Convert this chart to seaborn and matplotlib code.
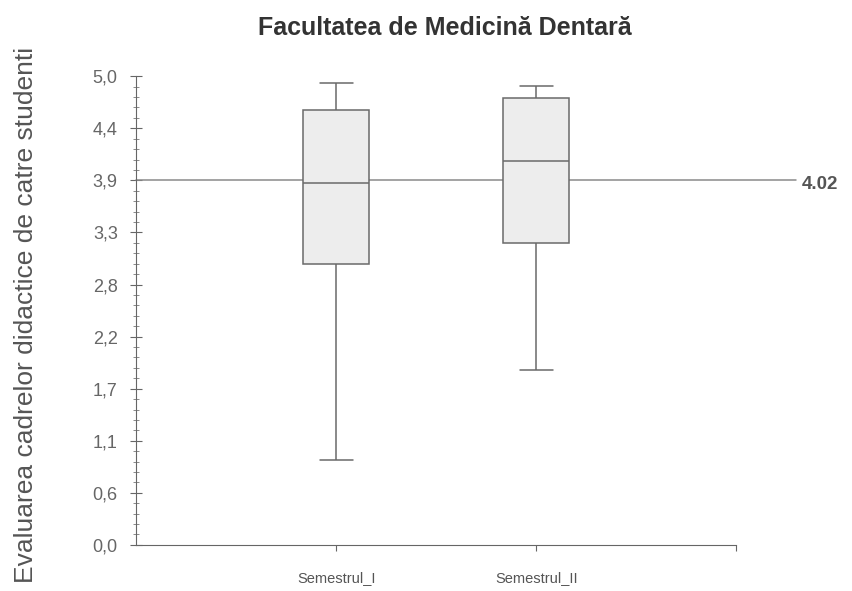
import numpy as np
import pandas as pd
import matplotlib
matplotlib.use("Agg")
import matplotlib.pyplot as plt
import seaborn as sns
from matplotlib.ticker import FixedLocator, AutoMinorLocator

# date: min, Q1, mediana, Q3, max
semestre = ["Semestrul_I", "Semestrul_II"]
sem1 = [0.91, 3.00, 3.86, 4.64, 4.93]
sem2 = [1.87, 3.22, 4.10, 4.77, 4.90]
medie_linie = 3.89
medie_text = "4.02"
yticks = [0.0, 5 / 9, 10 / 9, 15 / 9, 20 / 9, 25 / 9, 30 / 9, 35 / 9, 40 / 9, 5.0]
ytick_labels = ["0,0", "0,6", "1,1", "1,7", "2,2", "2,8", "3,3", "3,9", "4,4", "5,0"]

df = pd.DataFrame({
    "semestru": [semestre[0]] * len(sem1) + [semestre[1]] * len(sem2),
    "valoare": sem1 + sem2,
})

sns.set_style("ticks")
plt.rcParams["font.family"] = ["Liberation Sans", "DejaVu Sans"]

fig = plt.figure(figsize=(8.53, 5.91), dpi=100)
ax = fig.add_axes([0.16, 0.078, 0.703, 0.793])

sns.boxplot(data=df, x="semestru", y="valoare", ax=ax, whis=np.inf,
            width=0.33, color="#ededed", linecolor="#6a6a6a", linewidth=1.1,
            showcaps=True, saturation=1)

ax.set_xlim(-1, 2)
ax.set_ylim(0, 5.0)
ax.set_xticks([0, 1, 2])
ax.set_xticklabels(["Semestrul_I", "Semestrul_II", ""], fontsize=10.5, color="#555")
ax.yaxis.set_major_locator(FixedLocator(yticks))
ax.set_yticklabels(ytick_labels, fontsize=13, color="#666")
ax.yaxis.set_minor_locator(AutoMinorLocator(5))
ax.tick_params(axis="y", which="major", direction="inout", length=9, color="#666", pad=9)
ax.tick_params(axis="y", which="minor", direction="inout", length=5, color="#777")
ax.tick_params(axis="x", length=4, color="#666", pad=15)

for side in ["top", "right"]:
    ax.spines[side].set_visible(False)
for side in ["left", "bottom"]:
    ax.spines[side].set_color("#666")

ax.plot([-1, 2.3], [medie_linie, medie_linie], color="#8a8a8a", lw=1.1,
        clip_on=False, zorder=1)
ax.text(2.33, medie_linie - 0.05, medie_text, fontsize=13.5, color="#555",
        fontweight="bold", va="center", clip_on=False)

ax.set_xlabel("")
ax.set_ylabel("Evaluarea cadrelor didactice de catre studenti", fontsize=19,
              color="#555")
ax.yaxis.set_label_coords(-0.165, 0.49)
fig.suptitle("Facultatea de Medicină Dentară", x=0.522, y=0.953, va="center",
             fontsize=18, fontweight="bold", color="#333")

fig.savefig("out.png", dpi=100)
